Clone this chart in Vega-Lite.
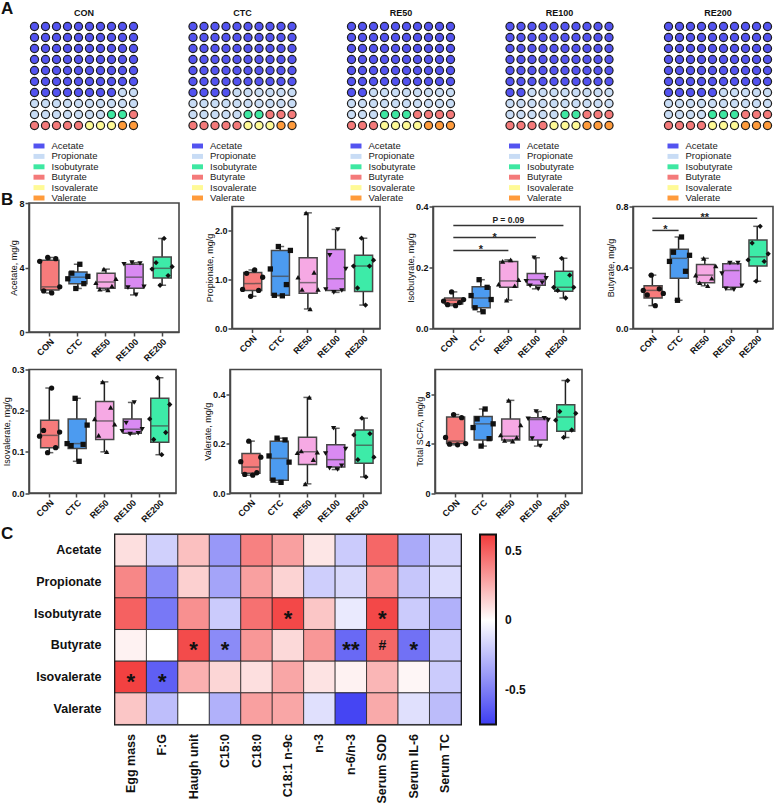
{
"$schema":"https://vega.github.io/schema/vega-lite/v6.json",
"padding":{"left":0,"top":0,"right":0,"bottom":0},
"background":"white",
"config":{"font":"Liberation Sans","view":{"stroke":null},
"axis":{"labelFont":"Liberation Sans","titleFont":"Liberation Sans","labelFontWeight":"bold","labelFontSize":9,"labelColor":"#111","titleFontSize":9,"titleFontWeight":"normal","titleColor":"#111","tickSize":4,"tickWidth":1.5,"tickColor":"#474747","domainColor":"#474747","domainWidth":1.5,"grid":false,"labelPadding":1,"titlePadding":0},
"title":{"font":"Liberation Sans","color":"#111"},"legend":{"labelFont":"Liberation Sans"}},
"datasets":{
"wCON":[{"r":1,"c":1,"k":"A"},{"r":1,"c":2,"k":"A"},{"r":1,"c":3,"k":"A"},{"r":1,"c":4,"k":"A"},{"r":1,"c":5,"k":"A"},{"r":1,"c":6,"k":"A"},{"r":1,"c":7,"k":"A"},{"r":1,"c":8,"k":"A"},{"r":1,"c":9,"k":"A"},{"r":1,"c":10,"k":"A"},
{"r":2,"c":1,"k":"A"},{"r":2,"c":2,"k":"A"},{"r":2,"c":3,"k":"A"},{"r":2,"c":4,"k":"A"},{"r":2,"c":5,"k":"A"},{"r":2,"c":6,"k":"A"},{"r":2,"c":7,"k":"A"},{"r":2,"c":8,"k":"A"},{"r":2,"c":9,"k":"A"},{"r":2,"c":10,"k":"A"},
{"r":3,"c":1,"k":"A"},{"r":3,"c":2,"k":"A"},{"r":3,"c":3,"k":"A"},{"r":3,"c":4,"k":"A"},{"r":3,"c":5,"k":"A"},{"r":3,"c":6,"k":"A"},{"r":3,"c":7,"k":"A"},{"r":3,"c":8,"k":"A"},{"r":3,"c":9,"k":"A"},{"r":3,"c":10,"k":"A"},
{"r":4,"c":1,"k":"A"},{"r":4,"c":2,"k":"A"},{"r":4,"c":3,"k":"A"},{"r":4,"c":4,"k":"A"},{"r":4,"c":5,"k":"A"},{"r":4,"c":6,"k":"A"},{"r":4,"c":7,"k":"A"},{"r":4,"c":8,"k":"A"},{"r":4,"c":9,"k":"A"},{"r":4,"c":10,"k":"A"},
{"r":5,"c":1,"k":"A"},{"r":5,"c":2,"k":"A"},{"r":5,"c":3,"k":"A"},{"r":5,"c":4,"k":"A"},{"r":5,"c":5,"k":"A"},{"r":5,"c":6,"k":"A"},{"r":5,"c":7,"k":"A"},{"r":5,"c":8,"k":"A"},{"r":5,"c":9,"k":"A"},{"r":5,"c":10,"k":"A"},
{"r":6,"c":1,"k":"A"},{"r":6,"c":2,"k":"A"},{"r":6,"c":3,"k":"A"},{"r":6,"c":4,"k":"A"},{"r":6,"c":5,"k":"A"},{"r":6,"c":6,"k":"A"},{"r":6,"c":7,"k":"A"},{"r":6,"c":8,"k":"A"},{"r":6,"c":9,"k":"A"},{"r":6,"c":10,"k":"A"},
{"r":7,"c":1,"k":"A"},{"r":7,"c":2,"k":"A"},{"r":7,"c":3,"k":"A"},{"r":7,"c":4,"k":"A"},{"r":7,"c":5,"k":"A"},{"r":7,"c":6,"k":"A"},{"r":7,"c":7,"k":"A"},{"r":7,"c":8,"k":"A"},{"r":7,"c":9,"k":"P"},{"r":7,"c":10,"k":"P"},
{"r":8,"c":1,"k":"P"},{"r":8,"c":2,"k":"P"},{"r":8,"c":3,"k":"P"},{"r":8,"c":4,"k":"P"},{"r":8,"c":5,"k":"P"},{"r":8,"c":6,"k":"P"},{"r":8,"c":7,"k":"P"},{"r":8,"c":8,"k":"P"},{"r":8,"c":9,"k":"P"},{"r":8,"c":10,"k":"P"},
{"r":9,"c":1,"k":"P"},{"r":9,"c":2,"k":"P"},{"r":9,"c":3,"k":"P"},{"r":9,"c":4,"k":"P"},{"r":9,"c":5,"k":"P"},{"r":9,"c":6,"k":"P"},{"r":9,"c":7,"k":"P"},{"r":9,"c":8,"k":"I"},{"r":9,"c":9,"k":"I"},{"r":9,"c":10,"k":"B"},
{"r":10,"c":1,"k":"B"},{"r":10,"c":2,"k":"B"},{"r":10,"c":3,"k":"B"},{"r":10,"c":4,"k":"B"},{"r":10,"c":5,"k":"B"},{"r":10,"c":6,"k":"Y"},{"r":10,"c":7,"k":"Y"},{"r":10,"c":8,"k":"Y"},{"r":10,"c":9,"k":"O"},{"r":10,"c":10,"k":"O"}],
"wCTC":[{"r":1,"c":1,"k":"A"},{"r":1,"c":2,"k":"A"},{"r":1,"c":3,"k":"A"},{"r":1,"c":4,"k":"A"},{"r":1,"c":5,"k":"A"},{"r":1,"c":6,"k":"A"},{"r":1,"c":7,"k":"A"},{"r":1,"c":8,"k":"A"},{"r":1,"c":9,"k":"A"},{"r":1,"c":10,"k":"A"},
{"r":2,"c":1,"k":"A"},{"r":2,"c":2,"k":"A"},{"r":2,"c":3,"k":"A"},{"r":2,"c":4,"k":"A"},{"r":2,"c":5,"k":"A"},{"r":2,"c":6,"k":"A"},{"r":2,"c":7,"k":"A"},{"r":2,"c":8,"k":"A"},{"r":2,"c":9,"k":"A"},{"r":2,"c":10,"k":"A"},
{"r":3,"c":1,"k":"A"},{"r":3,"c":2,"k":"A"},{"r":3,"c":3,"k":"A"},{"r":3,"c":4,"k":"A"},{"r":3,"c":5,"k":"A"},{"r":3,"c":6,"k":"A"},{"r":3,"c":7,"k":"A"},{"r":3,"c":8,"k":"A"},{"r":3,"c":9,"k":"A"},{"r":3,"c":10,"k":"A"},
{"r":4,"c":1,"k":"A"},{"r":4,"c":2,"k":"A"},{"r":4,"c":3,"k":"A"},{"r":4,"c":4,"k":"A"},{"r":4,"c":5,"k":"A"},{"r":4,"c":6,"k":"A"},{"r":4,"c":7,"k":"A"},{"r":4,"c":8,"k":"A"},{"r":4,"c":9,"k":"A"},{"r":4,"c":10,"k":"A"},
{"r":5,"c":1,"k":"A"},{"r":5,"c":2,"k":"A"},{"r":5,"c":3,"k":"A"},{"r":5,"c":4,"k":"A"},{"r":5,"c":5,"k":"A"},{"r":5,"c":6,"k":"A"},{"r":5,"c":7,"k":"A"},{"r":5,"c":8,"k":"A"},{"r":5,"c":9,"k":"A"},{"r":5,"c":10,"k":"A"},
{"r":6,"c":1,"k":"A"},{"r":6,"c":2,"k":"A"},{"r":6,"c":3,"k":"A"},{"r":6,"c":4,"k":"A"},{"r":6,"c":5,"k":"A"},{"r":6,"c":6,"k":"A"},{"r":6,"c":7,"k":"A"},{"r":6,"c":8,"k":"A"},{"r":6,"c":9,"k":"A"},{"r":6,"c":10,"k":"A"},
{"r":7,"c":1,"k":"A"},{"r":7,"c":2,"k":"A"},{"r":7,"c":3,"k":"A"},{"r":7,"c":4,"k":"A"},{"r":7,"c":5,"k":"P"},{"r":7,"c":6,"k":"P"},{"r":7,"c":7,"k":"P"},{"r":7,"c":8,"k":"P"},{"r":7,"c":9,"k":"P"},{"r":7,"c":10,"k":"P"},
{"r":8,"c":1,"k":"P"},{"r":8,"c":2,"k":"P"},{"r":8,"c":3,"k":"P"},{"r":8,"c":4,"k":"P"},{"r":8,"c":5,"k":"P"},{"r":8,"c":6,"k":"P"},{"r":8,"c":7,"k":"P"},{"r":8,"c":8,"k":"P"},{"r":8,"c":9,"k":"P"},{"r":8,"c":10,"k":"P"},
{"r":9,"c":1,"k":"P"},{"r":9,"c":2,"k":"P"},{"r":9,"c":3,"k":"P"},{"r":9,"c":4,"k":"P"},{"r":9,"c":5,"k":"P"},{"r":9,"c":6,"k":"I"},{"r":9,"c":7,"k":"I"},{"r":9,"c":8,"k":"B"},{"r":9,"c":9,"k":"B"},{"r":9,"c":10,"k":"B"},
{"r":10,"c":1,"k":"B"},{"r":10,"c":2,"k":"B"},{"r":10,"c":3,"k":"B"},{"r":10,"c":4,"k":"B"},{"r":10,"c":5,"k":"B"},{"r":10,"c":6,"k":"Y"},{"r":10,"c":7,"k":"Y"},{"r":10,"c":8,"k":"Y"},{"r":10,"c":9,"k":"O"},{"r":10,"c":10,"k":"O"}],
"wRE50":[{"r":1,"c":1,"k":"A"},{"r":1,"c":2,"k":"A"},{"r":1,"c":3,"k":"A"},{"r":1,"c":4,"k":"A"},{"r":1,"c":5,"k":"A"},{"r":1,"c":6,"k":"A"},{"r":1,"c":7,"k":"A"},{"r":1,"c":8,"k":"A"},{"r":1,"c":9,"k":"A"},{"r":1,"c":10,"k":"A"},
{"r":2,"c":1,"k":"A"},{"r":2,"c":2,"k":"A"},{"r":2,"c":3,"k":"A"},{"r":2,"c":4,"k":"A"},{"r":2,"c":5,"k":"A"},{"r":2,"c":6,"k":"A"},{"r":2,"c":7,"k":"A"},{"r":2,"c":8,"k":"A"},{"r":2,"c":9,"k":"A"},{"r":2,"c":10,"k":"A"},
{"r":3,"c":1,"k":"A"},{"r":3,"c":2,"k":"A"},{"r":3,"c":3,"k":"A"},{"r":3,"c":4,"k":"A"},{"r":3,"c":5,"k":"A"},{"r":3,"c":6,"k":"A"},{"r":3,"c":7,"k":"A"},{"r":3,"c":8,"k":"A"},{"r":3,"c":9,"k":"A"},{"r":3,"c":10,"k":"A"},
{"r":4,"c":1,"k":"A"},{"r":4,"c":2,"k":"A"},{"r":4,"c":3,"k":"A"},{"r":4,"c":4,"k":"A"},{"r":4,"c":5,"k":"A"},{"r":4,"c":6,"k":"A"},{"r":4,"c":7,"k":"A"},{"r":4,"c":8,"k":"A"},{"r":4,"c":9,"k":"A"},{"r":4,"c":10,"k":"A"},
{"r":5,"c":1,"k":"A"},{"r":5,"c":2,"k":"A"},{"r":5,"c":3,"k":"A"},{"r":5,"c":4,"k":"A"},{"r":5,"c":5,"k":"A"},{"r":5,"c":6,"k":"A"},{"r":5,"c":7,"k":"A"},{"r":5,"c":8,"k":"A"},{"r":5,"c":9,"k":"A"},{"r":5,"c":10,"k":"A"},
{"r":6,"c":1,"k":"A"},{"r":6,"c":2,"k":"A"},{"r":6,"c":3,"k":"A"},{"r":6,"c":4,"k":"A"},{"r":6,"c":5,"k":"A"},{"r":6,"c":6,"k":"A"},{"r":6,"c":7,"k":"A"},{"r":6,"c":8,"k":"A"},{"r":6,"c":9,"k":"A"},{"r":6,"c":10,"k":"A"},
{"r":7,"c":1,"k":"A"},{"r":7,"c":2,"k":"A"},{"r":7,"c":3,"k":"P"},{"r":7,"c":4,"k":"P"},{"r":7,"c":5,"k":"P"},{"r":7,"c":6,"k":"P"},{"r":7,"c":7,"k":"P"},{"r":7,"c":8,"k":"P"},{"r":7,"c":9,"k":"P"},{"r":7,"c":10,"k":"P"},
{"r":8,"c":1,"k":"P"},{"r":8,"c":2,"k":"P"},{"r":8,"c":3,"k":"P"},{"r":8,"c":4,"k":"P"},{"r":8,"c":5,"k":"P"},{"r":8,"c":6,"k":"P"},{"r":8,"c":7,"k":"P"},{"r":8,"c":8,"k":"P"},{"r":8,"c":9,"k":"P"},{"r":8,"c":10,"k":"P"},
{"r":9,"c":1,"k":"P"},{"r":9,"c":2,"k":"P"},{"r":9,"c":3,"k":"P"},{"r":9,"c":4,"k":"I"},{"r":9,"c":5,"k":"I"},{"r":9,"c":6,"k":"I"},{"r":9,"c":7,"k":"B"},{"r":9,"c":8,"k":"B"},{"r":9,"c":9,"k":"B"},{"r":9,"c":10,"k":"B"},
{"r":10,"c":1,"k":"B"},{"r":10,"c":2,"k":"B"},{"r":10,"c":3,"k":"B"},{"r":10,"c":4,"k":"Y"},{"r":10,"c":5,"k":"Y"},{"r":10,"c":6,"k":"Y"},{"r":10,"c":7,"k":"Y"},{"r":10,"c":8,"k":"O"},{"r":10,"c":9,"k":"O"},{"r":10,"c":10,"k":"O"}],
"wRE100":[{"r":1,"c":1,"k":"A"},{"r":1,"c":2,"k":"A"},{"r":1,"c":3,"k":"A"},{"r":1,"c":4,"k":"A"},{"r":1,"c":5,"k":"A"},{"r":1,"c":6,"k":"A"},{"r":1,"c":7,"k":"A"},{"r":1,"c":8,"k":"A"},{"r":1,"c":9,"k":"A"},{"r":1,"c":10,"k":"A"},
{"r":2,"c":1,"k":"A"},{"r":2,"c":2,"k":"A"},{"r":2,"c":3,"k":"A"},{"r":2,"c":4,"k":"A"},{"r":2,"c":5,"k":"A"},{"r":2,"c":6,"k":"A"},{"r":2,"c":7,"k":"A"},{"r":2,"c":8,"k":"A"},{"r":2,"c":9,"k":"A"},{"r":2,"c":10,"k":"A"},
{"r":3,"c":1,"k":"A"},{"r":3,"c":2,"k":"A"},{"r":3,"c":3,"k":"A"},{"r":3,"c":4,"k":"A"},{"r":3,"c":5,"k":"A"},{"r":3,"c":6,"k":"A"},{"r":3,"c":7,"k":"A"},{"r":3,"c":8,"k":"A"},{"r":3,"c":9,"k":"A"},{"r":3,"c":10,"k":"A"},
{"r":4,"c":1,"k":"A"},{"r":4,"c":2,"k":"A"},{"r":4,"c":3,"k":"A"},{"r":4,"c":4,"k":"A"},{"r":4,"c":5,"k":"A"},{"r":4,"c":6,"k":"A"},{"r":4,"c":7,"k":"A"},{"r":4,"c":8,"k":"A"},{"r":4,"c":9,"k":"A"},{"r":4,"c":10,"k":"A"},
{"r":5,"c":1,"k":"A"},{"r":5,"c":2,"k":"A"},{"r":5,"c":3,"k":"A"},{"r":5,"c":4,"k":"A"},{"r":5,"c":5,"k":"A"},{"r":5,"c":6,"k":"A"},{"r":5,"c":7,"k":"A"},{"r":5,"c":8,"k":"A"},{"r":5,"c":9,"k":"A"},{"r":5,"c":10,"k":"A"},
{"r":6,"c":1,"k":"A"},{"r":6,"c":2,"k":"A"},{"r":6,"c":3,"k":"A"},{"r":6,"c":4,"k":"A"},{"r":6,"c":5,"k":"A"},{"r":6,"c":6,"k":"A"},{"r":6,"c":7,"k":"A"},{"r":6,"c":8,"k":"A"},{"r":6,"c":9,"k":"A"},{"r":6,"c":10,"k":"A"},
{"r":7,"c":1,"k":"A"},{"r":7,"c":2,"k":"A"},{"r":7,"c":3,"k":"P"},{"r":7,"c":4,"k":"P"},{"r":7,"c":5,"k":"P"},{"r":7,"c":6,"k":"P"},{"r":7,"c":7,"k":"P"},{"r":7,"c":8,"k":"P"},{"r":7,"c":9,"k":"P"},{"r":7,"c":10,"k":"P"},
{"r":8,"c":1,"k":"P"},{"r":8,"c":2,"k":"P"},{"r":8,"c":3,"k":"P"},{"r":8,"c":4,"k":"P"},{"r":8,"c":5,"k":"P"},{"r":8,"c":6,"k":"P"},{"r":8,"c":7,"k":"P"},{"r":8,"c":8,"k":"P"},{"r":8,"c":9,"k":"P"},{"r":8,"c":10,"k":"P"},
{"r":9,"c":1,"k":"P"},{"r":9,"c":2,"k":"P"},{"r":9,"c":3,"k":"P"},{"r":9,"c":4,"k":"P"},{"r":9,"c":5,"k":"P"},{"r":9,"c":6,"k":"I"},{"r":9,"c":7,"k":"I"},{"r":9,"c":8,"k":"B"},{"r":9,"c":9,"k":"B"},{"r":9,"c":10,"k":"B"},
{"r":10,"c":1,"k":"B"},{"r":10,"c":2,"k":"B"},{"r":10,"c":3,"k":"B"},{"r":10,"c":4,"k":"B"},{"r":10,"c":5,"k":"Y"},{"r":10,"c":6,"k":"Y"},{"r":10,"c":7,"k":"Y"},{"r":10,"c":8,"k":"O"},{"r":10,"c":9,"k":"O"},{"r":10,"c":10,"k":"O"}],
"wRE200":[{"r":1,"c":1,"k":"A"},{"r":1,"c":2,"k":"A"},{"r":1,"c":3,"k":"A"},{"r":1,"c":4,"k":"A"},{"r":1,"c":5,"k":"A"},{"r":1,"c":6,"k":"A"},{"r":1,"c":7,"k":"A"},{"r":1,"c":8,"k":"A"},{"r":1,"c":9,"k":"A"},{"r":1,"c":10,"k":"A"},
{"r":2,"c":1,"k":"A"},{"r":2,"c":2,"k":"A"},{"r":2,"c":3,"k":"A"},{"r":2,"c":4,"k":"A"},{"r":2,"c":5,"k":"A"},{"r":2,"c":6,"k":"A"},{"r":2,"c":7,"k":"A"},{"r":2,"c":8,"k":"A"},{"r":2,"c":9,"k":"A"},{"r":2,"c":10,"k":"A"},
{"r":3,"c":1,"k":"A"},{"r":3,"c":2,"k":"A"},{"r":3,"c":3,"k":"A"},{"r":3,"c":4,"k":"A"},{"r":3,"c":5,"k":"A"},{"r":3,"c":6,"k":"A"},{"r":3,"c":7,"k":"A"},{"r":3,"c":8,"k":"A"},{"r":3,"c":9,"k":"A"},{"r":3,"c":10,"k":"A"},
{"r":4,"c":1,"k":"A"},{"r":4,"c":2,"k":"A"},{"r":4,"c":3,"k":"A"},{"r":4,"c":4,"k":"A"},{"r":4,"c":5,"k":"A"},{"r":4,"c":6,"k":"A"},{"r":4,"c":7,"k":"A"},{"r":4,"c":8,"k":"A"},{"r":4,"c":9,"k":"A"},{"r":4,"c":10,"k":"A"},
{"r":5,"c":1,"k":"A"},{"r":5,"c":2,"k":"A"},{"r":5,"c":3,"k":"A"},{"r":5,"c":4,"k":"A"},{"r":5,"c":5,"k":"A"},{"r":5,"c":6,"k":"A"},{"r":5,"c":7,"k":"A"},{"r":5,"c":8,"k":"A"},{"r":5,"c":9,"k":"A"},{"r":5,"c":10,"k":"A"},
{"r":6,"c":1,"k":"A"},{"r":6,"c":2,"k":"A"},{"r":6,"c":3,"k":"A"},{"r":6,"c":4,"k":"A"},{"r":6,"c":5,"k":"A"},{"r":6,"c":6,"k":"A"},{"r":6,"c":7,"k":"A"},{"r":6,"c":8,"k":"A"},{"r":6,"c":9,"k":"A"},{"r":6,"c":10,"k":"A"},
{"r":7,"c":1,"k":"A"},{"r":7,"c":2,"k":"A"},{"r":7,"c":3,"k":"A"},{"r":7,"c":4,"k":"A"},{"r":7,"c":5,"k":"A"},{"r":7,"c":6,"k":"P"},{"r":7,"c":7,"k":"P"},{"r":7,"c":8,"k":"P"},{"r":7,"c":9,"k":"P"},{"r":7,"c":10,"k":"P"},
{"r":8,"c":1,"k":"P"},{"r":8,"c":2,"k":"P"},{"r":8,"c":3,"k":"P"},{"r":8,"c":4,"k":"P"},{"r":8,"c":5,"k":"P"},{"r":8,"c":6,"k":"P"},{"r":8,"c":7,"k":"P"},{"r":8,"c":8,"k":"P"},{"r":8,"c":9,"k":"P"},{"r":8,"c":10,"k":"P"},
{"r":9,"c":1,"k":"P"},{"r":9,"c":2,"k":"P"},{"r":9,"c":3,"k":"P"},{"r":9,"c":4,"k":"P"},{"r":9,"c":5,"k":"I"},{"r":9,"c":6,"k":"I"},{"r":9,"c":7,"k":"I"},{"r":9,"c":8,"k":"B"},{"r":9,"c":9,"k":"B"},{"r":9,"c":10,"k":"B"},
{"r":10,"c":1,"k":"B"},{"r":10,"c":2,"k":"B"},{"r":10,"c":3,"k":"B"},{"r":10,"c":4,"k":"B"},{"r":10,"c":5,"k":"Y"},{"r":10,"c":6,"k":"Y"},{"r":10,"c":7,"k":"Y"},{"r":10,"c":8,"k":"O"},{"r":10,"c":9,"k":"O"},{"r":10,"c":10,"k":"O"}],
"box":[
{"m":"Acetate","g":"CON","mn":2.42,"q1":2.6,"md":2.8,"q3":4.45,"mx":4.62},
{"m":"Acetate","g":"CTC","mn":2.7,"q1":3.0,"md":3.4,"q3":3.72,"mx":4.2},
{"m":"Acetate","g":"RE50","mn":2.6,"q1":2.72,"md":3.1,"q3":3.65,"mx":3.9},
{"m":"Acetate","g":"RE100","mn":2.3,"q1":2.72,"md":3.4,"q3":4.2,"mx":4.3},
{"m":"Acetate","g":"RE200","mn":2.9,"q1":3.35,"md":3.95,"q3":4.65,"mx":5.8},
{"m":"Propionate","g":"CON","mn":0.66,"q1":0.78,"md":0.92,"q3":1.15,"mx":1.2},
{"m":"Propionate","g":"CTC","mn":0.67,"q1":0.68,"md":1.07,"q3":1.6,"mx":1.68},
{"m":"Propionate","g":"RE50","mn":0.4,"q1":0.72,"md":0.94,"q3":1.45,"mx":2.37},
{"m":"Propionate","g":"RE100","mn":0.74,"q1":0.78,"md":1.02,"q3":1.62,"mx":2.03},
{"m":"Propionate","g":"RE200","mn":0.48,"q1":0.76,"md":1.28,"q3":1.5,"mx":1.85},
{"m":"Isobutyrate","g":"CON","mn":0.075,"q1":0.08,"md":0.093,"q3":0.1,"mx":0.12},
{"m":"Isobutyrate","g":"CTC","mn":0.055,"q1":0.068,"md":0.1,"q3":0.137,"mx":0.16},
{"m":"Isobutyrate","g":"RE50","mn":0.093,"q1":0.135,"md":0.156,"q3":0.22,"mx":0.225},
{"m":"Isobutyrate","g":"RE100","mn":0.13,"q1":0.142,"md":0.16,"q3":0.18,"mx":0.232},
{"m":"Isobutyrate","g":"RE200","mn":0.1,"q1":0.122,"md":0.135,"q3":0.188,"mx":0.23},
{"m":"Butyrate","g":"CON","mn":0.15,"q1":0.2,"md":0.25,"q3":0.28,"mx":0.35},
{"m":"Butyrate","g":"CTC","mn":0.185,"q1":0.33,"md":0.46,"q3":0.52,"mx":0.6},
{"m":"Butyrate","g":"RE50","mn":0.28,"q1":0.3,"md":0.35,"q3":0.42,"mx":0.46},
{"m":"Butyrate","g":"RE100","mn":0.255,"q1":0.27,"md":0.38,"q3":0.425,"mx":0.43},
{"m":"Butyrate","g":"RE200","mn":0.31,"q1":0.41,"md":0.47,"q3":0.58,"mx":0.67},
{"m":"Isovalerate","g":"CON","mn":0.098,"q1":0.11,"md":0.14,"q3":0.177,"mx":0.255},
{"m":"Isovalerate","g":"CTC","mn":0.077,"q1":0.108,"md":0.12,"q3":0.18,"mx":0.23},
{"m":"Isovalerate","g":"RE50","mn":0.1,"q1":0.13,"md":0.175,"q3":0.222,"mx":0.27},
{"m":"Isovalerate","g":"RE100","mn":0.143,"q1":0.145,"md":0.155,"q3":0.18,"mx":0.22},
{"m":"Isovalerate","g":"RE200","mn":0.093,"q1":0.123,"md":0.163,"q3":0.23,"mx":0.28},
{"m":"Valerate","g":"CON","mn":0.072,"q1":0.08,"md":0.105,"q3":0.16,"mx":0.21},
{"m":"Valerate","g":"CTC","mn":0.043,"q1":0.052,"md":0.14,"q3":0.21,"mx":0.222},
{"m":"Valerate","g":"RE50","mn":0.037,"q1":0.115,"md":0.167,"q3":0.226,"mx":0.387},
{"m":"Valerate","g":"RE100","mn":0.095,"q1":0.105,"md":0.135,"q3":0.195,"mx":0.262},
{"m":"Valerate","g":"RE200","mn":0.065,"q1":0.12,"md":0.193,"q3":0.255,"mx":0.303},
{"m":"Total","g":"CON","mn":3.9,"q1":4.0,"md":4.2,"q3":6.15,"mx":6.35},
{"m":"Total","g":"CTC","mn":3.8,"q1":4.3,"md":5.6,"q3":6.2,"mx":6.8},
{"m":"Total","g":"RE50","mn":4.2,"q1":4.3,"md":4.6,"q3":6.0,"mx":7.5},
{"m":"Total","g":"RE100","mn":3.8,"q1":4.3,"md":5.95,"q3":6.1,"mx":6.6},
{"m":"Total","g":"RE200","mn":4.5,"q1":5.0,"md":6.15,"q3":7.15,"mx":9.1}],
"pts":[
{"m":"Acetate","g":"CON","k":3,"v":4.62},{"m":"Acetate","g":"CON","k":5,"v":4.55},{"m":"Acetate","g":"CON","k":1,"v":4.38},{"m":"Acetate","g":"CON","k":6,"v":2.8},{"m":"Acetate","g":"CON","k":2,"v":2.55},{"m":"Acetate","g":"CON","k":4,"v":2.42},
{"m":"Acetate","g":"CTC","k":4,"v":4.2},{"m":"Acetate","g":"CTC","k":2,"v":3.65},{"m":"Acetate","g":"CTC","k":6,"v":3.45},{"m":"Acetate","g":"CTC","k":1,"v":3.3},{"m":"Acetate","g":"CTC","k":5,"v":3.0},{"m":"Acetate","g":"CTC","k":3,"v":2.7},
{"m":"Acetate","g":"RE50","k":3,"v":3.9},{"m":"Acetate","g":"RE50","k":6,"v":3.3},{"m":"Acetate","g":"RE50","k":1,"v":3.05},{"m":"Acetate","g":"RE50","k":5,"v":2.85},{"m":"Acetate","g":"RE50","k":2,"v":2.65},{"m":"Acetate","g":"RE50","k":4,"v":2.6},
{"m":"Acetate","g":"RE100","k":3,"v":4.3},{"m":"Acetate","g":"RE100","k":5,"v":4.25},{"m":"Acetate","g":"RE100","k":1,"v":4.2},{"m":"Acetate","g":"RE100","k":6,"v":2.8},{"m":"Acetate","g":"RE100","k":2,"v":2.75},{"m":"Acetate","g":"RE100","k":4,"v":2.3},
{"m":"Acetate","g":"RE200","k":4,"v":5.8},{"m":"Acetate","g":"RE200","k":2,"v":4.3},{"m":"Acetate","g":"RE200","k":6,"v":4.05},{"m":"Acetate","g":"RE200","k":1,"v":3.9},{"m":"Acetate","g":"RE200","k":5,"v":3.5},{"m":"Acetate","g":"RE200","k":3,"v":2.9},
{"m":"Propionate","g":"CON","k":4,"v":1.2},{"m":"Propionate","g":"CON","k":2,"v":1.13},{"m":"Propionate","g":"CON","k":6,"v":1.05},{"m":"Propionate","g":"CON","k":1,"v":0.8},{"m":"Propionate","g":"CON","k":5,"v":0.78},{"m":"Propionate","g":"CON","k":3,"v":0.66},
{"m":"Propionate","g":"CTC","k":3,"v":1.68},{"m":"Propionate","g":"CTC","k":6,"v":1.6},{"m":"Propionate","g":"CTC","k":1,"v":1.22},{"m":"Propionate","g":"CTC","k":5,"v":0.9},{"m":"Propionate","g":"CTC","k":2,"v":0.68},{"m":"Propionate","g":"CTC","k":4,"v":0.67},
{"m":"Propionate","g":"RE50","k":3,"v":2.37},{"m":"Propionate","g":"RE50","k":5,"v":1.15},{"m":"Propionate","g":"RE50","k":1,"v":1.05},{"m":"Propionate","g":"RE50","k":6,"v":0.8},{"m":"Propionate","g":"RE50","k":2,"v":0.8},{"m":"Propionate","g":"RE50","k":4,"v":0.4},
{"m":"Propionate","g":"RE100","k":4,"v":2.03},{"m":"Propionate","g":"RE100","k":2,"v":1.5},{"m":"Propionate","g":"RE100","k":6,"v":1.22},{"m":"Propionate","g":"RE100","k":1,"v":0.8},{"m":"Propionate","g":"RE100","k":5,"v":0.78},{"m":"Propionate","g":"RE100","k":3,"v":0.74},
{"m":"Propionate","g":"RE200","k":3,"v":1.85},{"m":"Propionate","g":"RE200","k":6,"v":1.4},{"m":"Propionate","g":"RE200","k":1,"v":1.28},{"m":"Propionate","g":"RE200","k":5,"v":1.28},{"m":"Propionate","g":"RE200","k":2,"v":0.83},{"m":"Propionate","g":"RE200","k":4,"v":0.48},
{"m":"Isobutyrate","g":"CON","k":3,"v":0.12},{"m":"Isobutyrate","g":"CON","k":6,"v":0.095},{"m":"Isobutyrate","g":"CON","k":1,"v":0.09},{"m":"Isobutyrate","g":"CON","k":5,"v":0.085},{"m":"Isobutyrate","g":"CON","k":2,"v":0.078},{"m":"Isobutyrate","g":"CON","k":4,"v":0.075},
{"m":"Isobutyrate","g":"CTC","k":3,"v":0.16},{"m":"Isobutyrate","g":"CTC","k":5,"v":0.135},{"m":"Isobutyrate","g":"CTC","k":1,"v":0.108},{"m":"Isobutyrate","g":"CTC","k":6,"v":0.095},{"m":"Isobutyrate","g":"CTC","k":2,"v":0.068},{"m":"Isobutyrate","g":"CTC","k":4,"v":0.055},
{"m":"Isobutyrate","g":"RE50","k":4,"v":0.225},{"m":"Isobutyrate","g":"RE50","k":2,"v":0.22},{"m":"Isobutyrate","g":"RE50","k":6,"v":0.16},{"m":"Isobutyrate","g":"RE50","k":1,"v":0.145},{"m":"Isobutyrate","g":"RE50","k":5,"v":0.14},{"m":"Isobutyrate","g":"RE50","k":3,"v":0.093},
{"m":"Isobutyrate","g":"RE100","k":3,"v":0.232},{"m":"Isobutyrate","g":"RE100","k":6,"v":0.165},{"m":"Isobutyrate","g":"RE100","k":1,"v":0.155},{"m":"Isobutyrate","g":"RE100","k":5,"v":0.15},{"m":"Isobutyrate","g":"RE100","k":2,"v":0.14},{"m":"Isobutyrate","g":"RE100","k":4,"v":0.13},
{"m":"Isobutyrate","g":"RE200","k":3,"v":0.23},{"m":"Isobutyrate","g":"RE200","k":5,"v":0.175},{"m":"Isobutyrate","g":"RE200","k":1,"v":0.135},{"m":"Isobutyrate","g":"RE200","k":6,"v":0.135},{"m":"Isobutyrate","g":"RE200","k":2,"v":0.125},{"m":"Isobutyrate","g":"RE200","k":4,"v":0.1},
{"m":"Butyrate","g":"CON","k":3,"v":0.35},{"m":"Butyrate","g":"CON","k":5,"v":0.26},{"m":"Butyrate","g":"CON","k":1,"v":0.25},{"m":"Butyrate","g":"CON","k":6,"v":0.23},{"m":"Butyrate","g":"CON","k":2,"v":0.22},{"m":"Butyrate","g":"CON","k":4,"v":0.15},
{"m":"Butyrate","g":"CTC","k":4,"v":0.6},{"m":"Butyrate","g":"CTC","k":2,"v":0.5},{"m":"Butyrate","g":"CTC","k":6,"v":0.48},{"m":"Butyrate","g":"CTC","k":1,"v":0.44},{"m":"Butyrate","g":"CTC","k":5,"v":0.375},{"m":"Butyrate","g":"CTC","k":3,"v":0.185},
{"m":"Butyrate","g":"RE50","k":3,"v":0.46},{"m":"Butyrate","g":"RE50","k":6,"v":0.41},{"m":"Butyrate","g":"RE50","k":1,"v":0.35},{"m":"Butyrate","g":"RE50","k":5,"v":0.33},{"m":"Butyrate","g":"RE50","k":2,"v":0.3},{"m":"Butyrate","g":"RE50","k":4,"v":0.28},
{"m":"Butyrate","g":"RE100","k":3,"v":0.43},{"m":"Butyrate","g":"RE100","k":5,"v":0.43},{"m":"Butyrate","g":"RE100","k":1,"v":0.36},{"m":"Butyrate","g":"RE100","k":6,"v":0.28},{"m":"Butyrate","g":"RE100","k":2,"v":0.26},{"m":"Butyrate","g":"RE100","k":4,"v":0.255},
{"m":"Butyrate","g":"RE200","k":4,"v":0.67},{"m":"Butyrate","g":"RE200","k":2,"v":0.56},{"m":"Butyrate","g":"RE200","k":6,"v":0.49},{"m":"Butyrate","g":"RE200","k":1,"v":0.45},{"m":"Butyrate","g":"RE200","k":5,"v":0.44},{"m":"Butyrate","g":"RE200","k":3,"v":0.31},
{"m":"Isovalerate","g":"CON","k":4,"v":0.255},{"m":"Isovalerate","g":"CON","k":2,"v":0.152},{"m":"Isovalerate","g":"CON","k":6,"v":0.148},{"m":"Isovalerate","g":"CON","k":1,"v":0.138},{"m":"Isovalerate","g":"CON","k":5,"v":0.11},{"m":"Isovalerate","g":"CON","k":3,"v":0.098},
{"m":"Isovalerate","g":"CTC","k":3,"v":0.23},{"m":"Isovalerate","g":"CTC","k":6,"v":0.165},{"m":"Isovalerate","g":"CTC","k":1,"v":0.12},{"m":"Isovalerate","g":"CTC","k":5,"v":0.118},{"m":"Isovalerate","g":"CTC","k":2,"v":0.115},{"m":"Isovalerate","g":"CTC","k":4,"v":0.077},
{"m":"Isovalerate","g":"RE50","k":3,"v":0.27},{"m":"Isovalerate","g":"RE50","k":5,"v":0.208},{"m":"Isovalerate","g":"RE50","k":1,"v":0.18},{"m":"Isovalerate","g":"RE50","k":6,"v":0.167},{"m":"Isovalerate","g":"RE50","k":2,"v":0.14},{"m":"Isovalerate","g":"RE50","k":4,"v":0.1},
{"m":"Isovalerate","g":"RE100","k":4,"v":0.22},{"m":"Isovalerate","g":"RE100","k":2,"v":0.17},{"m":"Isovalerate","g":"RE100","k":6,"v":0.155},{"m":"Isovalerate","g":"RE100","k":1,"v":0.15},{"m":"Isovalerate","g":"RE100","k":5,"v":0.145},{"m":"Isovalerate","g":"RE100","k":3,"v":0.143},
{"m":"Isovalerate","g":"RE200","k":3,"v":0.28},{"m":"Isovalerate","g":"RE200","k":6,"v":0.215},{"m":"Isovalerate","g":"RE200","k":1,"v":0.18},{"m":"Isovalerate","g":"RE200","k":5,"v":0.147},{"m":"Isovalerate","g":"RE200","k":2,"v":0.13},{"m":"Isovalerate","g":"RE200","k":4,"v":0.093},
{"m":"Valerate","g":"CON","k":3,"v":0.21},{"m":"Valerate","g":"CON","k":6,"v":0.145},{"m":"Valerate","g":"CON","k":1,"v":0.127},{"m":"Valerate","g":"CON","k":5,"v":0.082},{"m":"Valerate","g":"CON","k":2,"v":0.075},{"m":"Valerate","g":"CON","k":4,"v":0.072},
{"m":"Valerate","g":"CTC","k":3,"v":0.222},{"m":"Valerate","g":"CTC","k":5,"v":0.215},{"m":"Valerate","g":"CTC","k":1,"v":0.15},{"m":"Valerate","g":"CTC","k":6,"v":0.125},{"m":"Valerate","g":"CTC","k":2,"v":0.052},{"m":"Valerate","g":"CTC","k":4,"v":0.043},
{"m":"Valerate","g":"RE50","k":4,"v":0.387},{"m":"Valerate","g":"RE50","k":2,"v":0.17},{"m":"Valerate","g":"RE50","k":6,"v":0.165},{"m":"Valerate","g":"RE50","k":1,"v":0.163},{"m":"Valerate","g":"RE50","k":5,"v":0.135},{"m":"Valerate","g":"RE50","k":3,"v":0.037},
{"m":"Valerate","g":"RE100","k":3,"v":0.262},{"m":"Valerate","g":"RE100","k":6,"v":0.178},{"m":"Valerate","g":"RE100","k":1,"v":0.16},{"m":"Valerate","g":"RE100","k":5,"v":0.11},{"m":"Valerate","g":"RE100","k":2,"v":0.1},{"m":"Valerate","g":"RE100","k":4,"v":0.095},
{"m":"Valerate","g":"RE200","k":3,"v":0.303},{"m":"Valerate","g":"RE200","k":5,"v":0.24},{"m":"Valerate","g":"RE200","k":1,"v":0.235},{"m":"Valerate","g":"RE200","k":6,"v":0.145},{"m":"Valerate","g":"RE200","k":2,"v":0.135},{"m":"Valerate","g":"RE200","k":4,"v":0.065},
{"m":"Total","g":"CON","k":3,"v":6.35},{"m":"Total","g":"CON","k":5,"v":6.1},{"m":"Total","g":"CON","k":1,"v":4.5},{"m":"Total","g":"CON","k":6,"v":4.0},{"m":"Total","g":"CON","k":2,"v":3.95},{"m":"Total","g":"CON","k":4,"v":3.9},
{"m":"Total","g":"CTC","k":4,"v":6.8},{"m":"Total","g":"CTC","k":2,"v":6.0},{"m":"Total","g":"CTC","k":6,"v":5.6},{"m":"Total","g":"CTC","k":1,"v":5.3},{"m":"Total","g":"CTC","k":5,"v":4.4},{"m":"Total","g":"CTC","k":3,"v":3.8},
{"m":"Total","g":"RE50","k":3,"v":7.5},{"m":"Total","g":"RE50","k":6,"v":5.5},{"m":"Total","g":"RE50","k":1,"v":4.7},{"m":"Total","g":"RE50","k":5,"v":4.5},{"m":"Total","g":"RE50","k":2,"v":4.25},{"m":"Total","g":"RE50","k":4,"v":4.2},
{"m":"Total","g":"RE100","k":3,"v":6.6},{"m":"Total","g":"RE100","k":5,"v":6.05},{"m":"Total","g":"RE100","k":1,"v":6.0},{"m":"Total","g":"RE100","k":6,"v":5.9},{"m":"Total","g":"RE100","k":2,"v":4.4},{"m":"Total","g":"RE100","k":4,"v":3.8},
{"m":"Total","g":"RE200","k":4,"v":9.1},{"m":"Total","g":"RE200","k":2,"v":6.6},{"m":"Total","g":"RE200","k":6,"v":6.45},{"m":"Total","g":"RE200","k":1,"v":5.9},{"m":"Total","g":"RE200","k":5,"v":5.1},{"m":"Total","g":"RE200","k":3,"v":4.5}],
"sig":[
{"m":"Isobutyrate","a":"CON","b":"RE50","y":0.256,"t":"*","mid":"CTC","p":"c"},
{"m":"Isobutyrate","a":"CON","b":"RE100","y":0.298,"t":"*","mid":"RE50","p":"e"},
{"m":"Isobutyrate","a":"CON","b":"RE200","y":0.338,"t":"P = 0.09","mid":"RE50","p":"c"},
{"m":"Butyrate","a":"CON","b":"CTC","y":0.643,"t":"*","mid":"CTC","p":"e"},
{"m":"Butyrate","a":"CON","b":"RE200","y":0.723,"t":"**","mid":"RE50","p":"c"}],
"heat":[
{"r":"Acetate","c":"Egg mass","v":0.1},{"r":"Acetate","c":"F:G","v":-0.18},{"r":"Acetate","c":"Haugh unit","v":0.2},{"r":"Acetate","c":"C15:0","v":-0.4},{"r":"Acetate","c":"C18:0","v":0.4},{"r":"Acetate","c":"C18:1 n-9c","v":0.3},{"r":"Acetate","c":"n-3","v":0.08},{"r":"Acetate","c":"n-6/n-3","v":-0.2},{"r":"Acetate","c":"Serum SOD","v":0.48},{"r":"Acetate","c":"Serum IL-6","v":-0.33},{"r":"Acetate","c":"Serum TC","v":-0.17},
{"r":"Propionate","c":"Egg mass","v":0.38},{"r":"Propionate","c":"F:G","v":-0.45},{"r":"Propionate","c":"Haugh unit","v":0.15},{"r":"Propionate","c":"C15:0","v":-0.35},{"r":"Propionate","c":"C18:0","v":0.3},{"r":"Propionate","c":"C18:1 n-9c","v":0.14},{"r":"Propionate","c":"n-3","v":-0.19},{"r":"Propionate","c":"n-6/n-3","v":-0.15},{"r":"Propionate","c":"Serum SOD","v":0.35},{"r":"Propionate","c":"Serum IL-6","v":-0.22},{"r":"Propionate","c":"Serum TC","v":-0.14},
{"r":"Isobutyrate","c":"Egg mass","v":0.5},{"r":"Isobutyrate","c":"F:G","v":-0.52},{"r":"Isobutyrate","c":"Haugh unit","v":0.35},{"r":"Isobutyrate","c":"C15:0","v":-0.2},{"r":"Isobutyrate","c":"C18:0","v":0.45},{"r":"Isobutyrate","c":"C18:1 n-9c","v":0.58,"s":"*"},{"r":"Isobutyrate","c":"n-3","v":0.18},{"r":"Isobutyrate","c":"n-6/n-3","v":-0.08},{"r":"Isobutyrate","c":"Serum SOD","v":0.58,"s":"*"},{"r":"Isobutyrate","c":"Serum IL-6","v":-0.2},{"r":"Isobutyrate","c":"Serum TC","v":-0.3},
{"r":"Butyrate","c":"Egg mass","v":0.04},{"r":"Butyrate","c":"F:G","v":0},{"r":"Butyrate","c":"Haugh unit","v":0.57,"s":"*"},{"r":"Butyrate","c":"C15:0","v":-0.45,"s":"*"},{"r":"Butyrate","c":"C18:0","v":0.33},{"r":"Butyrate","c":"C18:1 n-9c","v":0.12},{"r":"Butyrate","c":"n-3","v":0.33},{"r":"Butyrate","c":"n-6/n-3","v":-0.58,"s":"**"},{"r":"Butyrate","c":"Serum SOD","v":0.48,"s":"#"},{"r":"Butyrate","c":"Serum IL-6","v":-0.55,"s":"*"},{"r":"Butyrate","c":"Serum TC","v":-0.2},
{"r":"Isovalerate","c":"Egg mass","v":0.6,"s":"*"},{"r":"Isovalerate","c":"F:G","v":-0.62,"s":"*"},{"r":"Isovalerate","c":"Haugh unit","v":0.25},{"r":"Isovalerate","c":"C15:0","v":0.13},{"r":"Isovalerate","c":"C18:0","v":0.1},{"r":"Isovalerate","c":"C18:1 n-9c","v":0.28},{"r":"Isovalerate","c":"n-3","v":0.09},{"r":"Isovalerate","c":"n-6/n-3","v":0.04},{"r":"Isovalerate","c":"Serum SOD","v":0.23},{"r":"Isovalerate","c":"Serum IL-6","v":0.03},{"r":"Isovalerate","c":"Serum TC","v":-0.2},
{"r":"Valerate","c":"Egg mass","v":0.18},{"r":"Valerate","c":"F:G","v":-0.25},{"r":"Valerate","c":"Haugh unit","v":0},{"r":"Valerate","c":"C15:0","v":-0.3},{"r":"Valerate","c":"C18:0","v":0.3},{"r":"Valerate","c":"C18:1 n-9c","v":0.28},{"r":"Valerate","c":"n-3","v":-0.12},{"r":"Valerate","c":"n-6/n-3","v":-0.72},{"r":"Valerate","c":"Serum SOD","v":0.27},{"r":"Valerate","c":"Serum IL-6","v":-0.12},{"r":"Valerate","c":"Serum TC","v":-0.26}]
},
"resolve":{"scale":{"fill":"independent","shape":"independent"}},
"columns":1,"spacing":{"row":-17,"column":0},
"concat":[
{"hconcat":[
 {"width":110,"height":110,"data":{"name":"wCON"},"title":{"text":"CON","fontSize":9,"fontWeight":"bold","offset":2},
  "mark":{"type":"point","shape":"circle","filled":true,"stroke":"#1e1e1e","strokeWidth":1.2,"size":66,"opacity":1},
  "encoding":{"x":{"field":"c","type":"quantitative","scale":{"domain":[0.5,10.5],"nice":false,"zero":false},"axis":null},
   "y":{"field":"r","type":"quantitative","scale":{"domain":[0.5,10.5],"nice":false,"zero":false,"reverse":true},"axis":null},
   "fill":{"field":"k","type":"nominal","scale":{"domain":["A","P","I","B","Y","O"],"range":["#5353F0","#C8DCF5","#3EE8A2","#F47A7A","#FFFA96","#FF9B3B"]},
    "legend":{"orient":"none","legendX":4.5,"legendY":119.5,"direction":"vertical","title":null,"padding":0,"symbolType":"M-1,-0.45H1V0.45H-1Z","symbolSize":121,"symbolStrokeWidth":0,"labelFontSize":9.5,"labelColor":"#222","labelOffset":7,"rowPadding":0.4,"labelExpr":"datum.label=='A'?'Acetate':datum.label=='P'?'Propionate':datum.label=='I'?'Isobutyrate':datum.label=='B'?'Butyrate':datum.label=='Y'?'Isovalerate':'Valerate'"}}}},
 {"width":110,"height":110,"data":{"name":"wCTC"},"title":{"text":"CTC","fontSize":9,"fontWeight":"bold","offset":2},
  "mark":{"type":"point","shape":"circle","filled":true,"stroke":"#1e1e1e","strokeWidth":1.2,"size":66,"opacity":1},
  "encoding":{"x":{"field":"c","type":"quantitative","scale":{"domain":[0.5,10.5],"nice":false,"zero":false},"axis":null},
   "y":{"field":"r","type":"quantitative","scale":{"domain":[0.5,10.5],"nice":false,"zero":false,"reverse":true},"axis":null},
   "fill":{"field":"k","type":"nominal","scale":{"domain":["A","P","I","B","Y","O"],"range":["#5353F0","#C8DCF5","#3EE8A2","#F47A7A","#FFFA96","#FF9B3B"]},
    "legend":{"orient":"none","legendX":4.5,"legendY":119.5,"direction":"vertical","title":null,"padding":0,"symbolType":"M-1,-0.45H1V0.45H-1Z","symbolSize":121,"symbolStrokeWidth":0,"labelFontSize":9.5,"labelColor":"#222","labelOffset":7,"rowPadding":0.4,"labelExpr":"datum.label=='A'?'Acetate':datum.label=='P'?'Propionate':datum.label=='I'?'Isobutyrate':datum.label=='B'?'Butyrate':datum.label=='Y'?'Isovalerate':'Valerate'"}}}},
 {"width":110,"height":110,"data":{"name":"wRE50"},"title":{"text":"RE50","fontSize":9,"fontWeight":"bold","offset":2},
  "mark":{"type":"point","shape":"circle","filled":true,"stroke":"#1e1e1e","strokeWidth":1.2,"size":66,"opacity":1},
  "encoding":{"x":{"field":"c","type":"quantitative","scale":{"domain":[0.5,10.5],"nice":false,"zero":false},"axis":null},
   "y":{"field":"r","type":"quantitative","scale":{"domain":[0.5,10.5],"nice":false,"zero":false,"reverse":true},"axis":null},
   "fill":{"field":"k","type":"nominal","scale":{"domain":["A","P","I","B","Y","O"],"range":["#5353F0","#C8DCF5","#3EE8A2","#F47A7A","#FFFA96","#FF9B3B"]},
    "legend":{"orient":"none","legendX":4.5,"legendY":119.5,"direction":"vertical","title":null,"padding":0,"symbolType":"M-1,-0.45H1V0.45H-1Z","symbolSize":121,"symbolStrokeWidth":0,"labelFontSize":9.5,"labelColor":"#222","labelOffset":7,"rowPadding":0.4,"labelExpr":"datum.label=='A'?'Acetate':datum.label=='P'?'Propionate':datum.label=='I'?'Isobutyrate':datum.label=='B'?'Butyrate':datum.label=='Y'?'Isovalerate':'Valerate'"}}}},
 {"width":110,"height":110,"data":{"name":"wRE100"},"title":{"text":"RE100","fontSize":9,"fontWeight":"bold","offset":2},
  "mark":{"type":"point","shape":"circle","filled":true,"stroke":"#1e1e1e","strokeWidth":1.2,"size":66,"opacity":1},
  "encoding":{"x":{"field":"c","type":"quantitative","scale":{"domain":[0.5,10.5],"nice":false,"zero":false},"axis":null},
   "y":{"field":"r","type":"quantitative","scale":{"domain":[0.5,10.5],"nice":false,"zero":false,"reverse":true},"axis":null},
   "fill":{"field":"k","type":"nominal","scale":{"domain":["A","P","I","B","Y","O"],"range":["#5353F0","#C8DCF5","#3EE8A2","#F47A7A","#FFFA96","#FF9B3B"]},
    "legend":{"orient":"none","legendX":4.5,"legendY":119.5,"direction":"vertical","title":null,"padding":0,"symbolType":"M-1,-0.45H1V0.45H-1Z","symbolSize":121,"symbolStrokeWidth":0,"labelFontSize":9.5,"labelColor":"#222","labelOffset":7,"rowPadding":0.4,"labelExpr":"datum.label=='A'?'Acetate':datum.label=='P'?'Propionate':datum.label=='I'?'Isobutyrate':datum.label=='B'?'Butyrate':datum.label=='Y'?'Isovalerate':'Valerate'"}}}},
 {"width":110,"height":110,"data":{"name":"wRE200"},"title":{"text":"RE200","fontSize":9,"fontWeight":"bold","offset":2},
  "mark":{"type":"point","shape":"circle","filled":true,"stroke":"#1e1e1e","strokeWidth":1.2,"size":66,"opacity":1},
  "encoding":{"x":{"field":"c","type":"quantitative","scale":{"domain":[0.5,10.5],"nice":false,"zero":false},"axis":null},
   "y":{"field":"r","type":"quantitative","scale":{"domain":[0.5,10.5],"nice":false,"zero":false,"reverse":true},"axis":null},
   "fill":{"field":"k","type":"nominal","scale":{"domain":["A","P","I","B","Y","O"],"range":["#5353F0","#C8DCF5","#3EE8A2","#F47A7A","#FFFA96","#FF9B3B"]},
    "legend":{"orient":"none","legendX":4.5,"legendY":119.5,"direction":"vertical","title":null,"padding":0,"symbolType":"M-1,-0.45H1V0.45H-1Z","symbolSize":121,"symbolStrokeWidth":0,"labelFontSize":9.5,"labelColor":"#222","labelOffset":7,"rowPadding":0.4,"labelExpr":"datum.label=='A'?'Acetate':datum.label=='P'?'Propionate':datum.label=='I'?'Isobutyrate':datum.label=='B'?'Butyrate':datum.label=='Y'?'Isovalerate':'Valerate'"}}}}
 ],
 "bounds":"flush","spacing":48.5,
 "title":{"text":"A","orient":"top","anchor":"start","frame":"group","fontSize":17,"fontWeight":"bold","offset":0,"dx":-28,"dy":26,"align":"left","baseline":"bottom"},
 "resolve":{"scale":{"fill":"independent"},"legend":{"fill":"independent"}}},
{"columns":1,"spacing":{"row":0.5,"column":0},"resolve":{"scale":{"fill":"independent","shape":"independent"}},
"concat":[
{"hconcat":[
 {"width":150,"height":129,"view":{"stroke":"#474747","strokeWidth":1.6},
  "title":{"text":"B","orient":"top","anchor":"start","frame":"group","fontSize":17,"fontWeight":"bold","offset":0,"dx":-28,"dy":26.5,"align":"left","baseline":"bottom"},
  "layer":[
   {"data":{"name":"box"},"transform":[{"filter":"datum.m=='Acetate'"}],"mark":{"type":"rule","color":"#222","strokeWidth":1.5},
    "encoding":{"x":{"field":"g","type":"nominal","scale":{"domain":["CON","CTC","RE50","RE100","RE200"],"paddingInner":0,"paddingOuter":0.17,"align":0.7},"axis":{"title":null,"labelAngle":-45}},
     "y":{"field":"mn","type":"quantitative","scale":{"domain":[0,8],"nice":false},"axis":{"title":"Acetate, mg/g","values":[0,2,4,6,8],"format":"d"}},"y2":{"field":"mx"}}},
   {"data":{"name":"box"},"transform":[{"filter":"datum.m=='Acetate'"}],"mark":{"type":"tick","color":"#222","thickness":1.5,"size":8},"encoding":{"x":{"field":"g","type":"nominal"},"y":{"field":"mx","type":"quantitative"}}},
   {"data":{"name":"box"},"transform":[{"filter":"datum.m=='Acetate'"}],"mark":{"type":"tick","color":"#222","thickness":1.5,"size":8},"encoding":{"x":{"field":"g","type":"nominal"},"y":{"field":"mn","type":"quantitative"}}},
   {"data":{"name":"box"},"transform":[{"filter":"datum.m=='Acetate'"}],"mark":{"type":"bar","width":{"band":0.63},"stroke":"#474747","strokeWidth":1.5},"encoding":{"x":{"field":"g","type":"nominal"},"y":{"field":"q1","type":"quantitative"},"y2":{"field":"q3"},"fill":{"field":"g","type":"nominal","scale":{"domain":["CON","CTC","RE50","RE100","RE200"],"range":["#F77B7B","#4C9BF0","#F6A9E4","#D98AF3","#3DEBA8"]},"legend":null}}},
   {"data":{"name":"box"},"transform":[{"filter":"datum.m=='Acetate'"}],"mark":{"type":"tick","color":"#474747","thickness":1.5,"size":17},"encoding":{"x":{"field":"g","type":"nominal"},"y":{"field":"md","type":"quantitative"}}},
   {"data":{"name":"pts"},"transform":[{"filter":"datum.m=='Acetate'"}],"mark":{"type":"point","filled":true,"color":"#111","size":28,"opacity":1},"encoding":{"x":{"field":"g","type":"nominal"},"xOffset":{"field":"k","type":"nominal","scale":{"paddingOuter":1.2}},"y":{"field":"v","type":"quantitative"},"shape":{"field":"g","type":"nominal","scale":{"domain":["CON","CTC","RE50","RE100","RE200"],"range":["circle","square","triangle-up","triangle-down","diamond"]},"legend":null}}}
  ]},
 {"width":148,"height":122,"view":{"stroke":"#474747","strokeWidth":1.6},
  "layer":[
   {"data":{"name":"box"},"transform":[{"filter":"datum.m=='Propionate'"}],"mark":{"type":"rule","color":"#222","strokeWidth":1.5},
    "encoding":{"x":{"field":"g","type":"nominal","scale":{"domain":["CON","CTC","RE50","RE100","RE200"],"paddingInner":0,"paddingOuter":0.17,"align":0.7},"axis":{"title":null,"labelAngle":-45}},
     "y":{"field":"mn","type":"quantitative","scale":{"domain":[0,2.5],"nice":false},"axis":{"title":"Propionate, mg/g","values":[0,0.5,1,1.5,2,2.5],"format":".1f"}},"y2":{"field":"mx"}}},
   {"data":{"name":"box"},"transform":[{"filter":"datum.m=='Propionate'"}],"mark":{"type":"tick","color":"#222","thickness":1.5,"size":8},"encoding":{"x":{"field":"g","type":"nominal"},"y":{"field":"mx","type":"quantitative"}}},
   {"data":{"name":"box"},"transform":[{"filter":"datum.m=='Propionate'"}],"mark":{"type":"tick","color":"#222","thickness":1.5,"size":8},"encoding":{"x":{"field":"g","type":"nominal"},"y":{"field":"mn","type":"quantitative"}}},
   {"data":{"name":"box"},"transform":[{"filter":"datum.m=='Propionate'"}],"mark":{"type":"bar","width":{"band":0.63},"stroke":"#474747","strokeWidth":1.5},"encoding":{"x":{"field":"g","type":"nominal"},"y":{"field":"q1","type":"quantitative"},"y2":{"field":"q3"},"fill":{"field":"g","type":"nominal","scale":{"domain":["CON","CTC","RE50","RE100","RE200"],"range":["#F77B7B","#4C9BF0","#F6A9E4","#D98AF3","#3DEBA8"]},"legend":null}}},
   {"data":{"name":"box"},"transform":[{"filter":"datum.m=='Propionate'"}],"mark":{"type":"tick","color":"#474747","thickness":1.5,"size":17},"encoding":{"x":{"field":"g","type":"nominal"},"y":{"field":"md","type":"quantitative"}}},
   {"data":{"name":"pts"},"transform":[{"filter":"datum.m=='Propionate'"}],"mark":{"type":"point","filled":true,"color":"#111","size":28,"opacity":1},"encoding":{"x":{"field":"g","type":"nominal"},"xOffset":{"field":"k","type":"nominal","scale":{"paddingOuter":1.2}},"y":{"field":"v","type":"quantitative"},"shape":{"field":"g","type":"nominal","scale":{"domain":["CON","CTC","RE50","RE100","RE200"],"range":["circle","square","triangle-up","triangle-down","diamond"]},"legend":null}}}
  ]},
 {"width":147,"height":122,"view":{"stroke":"#474747","strokeWidth":1.6},
  "layer":[
   {"data":{"name":"box"},"transform":[{"filter":"datum.m=='Isobutyrate'"}],"mark":{"type":"rule","color":"#222","strokeWidth":1.5},
    "encoding":{"x":{"field":"g","type":"nominal","scale":{"domain":["CON","CTC","RE50","RE100","RE200"],"paddingInner":0,"paddingOuter":0.17,"align":0.7},"axis":{"title":null,"labelAngle":-45}},
     "y":{"field":"mn","type":"quantitative","scale":{"domain":[0,0.4],"nice":false},"axis":{"title":"Isobutyrate, mg/g","values":[0,0.1,0.2,0.3,0.4],"format":".1f"}},"y2":{"field":"mx"}}},
   {"data":{"name":"box"},"transform":[{"filter":"datum.m=='Isobutyrate'"}],"mark":{"type":"tick","color":"#222","thickness":1.5,"size":8},"encoding":{"x":{"field":"g","type":"nominal"},"y":{"field":"mx","type":"quantitative"}}},
   {"data":{"name":"box"},"transform":[{"filter":"datum.m=='Isobutyrate'"}],"mark":{"type":"tick","color":"#222","thickness":1.5,"size":8},"encoding":{"x":{"field":"g","type":"nominal"},"y":{"field":"mn","type":"quantitative"}}},
   {"data":{"name":"box"},"transform":[{"filter":"datum.m=='Isobutyrate'"}],"mark":{"type":"bar","width":{"band":0.63},"stroke":"#474747","strokeWidth":1.5},"encoding":{"x":{"field":"g","type":"nominal"},"y":{"field":"q1","type":"quantitative"},"y2":{"field":"q3"},"fill":{"field":"g","type":"nominal","scale":{"domain":["CON","CTC","RE50","RE100","RE200"],"range":["#F77B7B","#4C9BF0","#F6A9E4","#D98AF3","#3DEBA8"]},"legend":null}}},
   {"data":{"name":"box"},"transform":[{"filter":"datum.m=='Isobutyrate'"}],"mark":{"type":"tick","color":"#474747","thickness":1.5,"size":17},"encoding":{"x":{"field":"g","type":"nominal"},"y":{"field":"md","type":"quantitative"}}},
   {"data":{"name":"pts"},"transform":[{"filter":"datum.m=='Isobutyrate'"}],"mark":{"type":"point","filled":true,"color":"#111","size":28,"opacity":1},"encoding":{"x":{"field":"g","type":"nominal"},"xOffset":{"field":"k","type":"nominal","scale":{"paddingOuter":1.2}},"y":{"field":"v","type":"quantitative"},"shape":{"field":"g","type":"nominal","scale":{"domain":["CON","CTC","RE50","RE100","RE200"],"range":["circle","square","triangle-up","triangle-down","diamond"]},"legend":null}}},
   {"data":{"name":"sig"},"transform":[{"filter":"datum.m=='Isobutyrate'"}],"mark":{"type":"rule","color":"#333","strokeWidth":1.5},"encoding":{"x":{"field":"a","type":"nominal"},"x2":{"field":"b"},"y":{"field":"y","type":"quantitative"}}},
   {"data":{"name":"sig"},"transform":[{"filter":"datum.m=='Isobutyrate' && datum.t=='*' && datum.p=='c'"}],"mark":{"type":"text","fontSize":11,"fontWeight":"bold","baseline":"alphabetic","dy":3,"color":"#222"},"encoding":{"x":{"field":"mid","type":"nominal","bandPosition":0.5},"y":{"field":"y","type":"quantitative"},"text":{"field":"t"}}},
   {"data":{"name":"sig"},"transform":[{"filter":"datum.m=='Isobutyrate' && datum.t=='*' && datum.p=='e'"}],"mark":{"type":"text","fontSize":11,"fontWeight":"bold","baseline":"alphabetic","dy":3,"color":"#222"},"encoding":{"x":{"field":"mid","type":"nominal","bandPosition":0},"y":{"field":"y","type":"quantitative"},"text":{"field":"t"}}},
   {"data":{"name":"sig"},"transform":[{"filter":"datum.m=='Isobutyrate' && datum.t!='*'"}],"mark":{"type":"text","fontSize":8.5,"fontWeight":"bold","baseline":"alphabetic","dy":-2.5,"color":"#222"},"encoding":{"x":{"field":"mid","type":"nominal","bandPosition":0.5},"y":{"field":"y","type":"quantitative"},"text":{"field":"t"}}}
  ]},
 {"width":140,"height":122,"view":{"stroke":"#474747","strokeWidth":1.6},
  "layer":[
   {"data":{"name":"box"},"transform":[{"filter":"datum.m=='Butyrate'"}],"mark":{"type":"rule","color":"#222","strokeWidth":1.5},
    "encoding":{"x":{"field":"g","type":"nominal","scale":{"domain":["CON","CTC","RE50","RE100","RE200"],"paddingInner":0,"paddingOuter":0.17,"align":0.7},"axis":{"title":null,"labelAngle":-45}},
     "y":{"field":"mn","type":"quantitative","scale":{"domain":[0,0.8],"nice":false},"axis":{"title":"Butyrate, mg/g","values":[0,0.2,0.4,0.6,0.8],"format":".1f"}},"y2":{"field":"mx"}}},
   {"data":{"name":"box"},"transform":[{"filter":"datum.m=='Butyrate'"}],"mark":{"type":"tick","color":"#222","thickness":1.5,"size":8},"encoding":{"x":{"field":"g","type":"nominal"},"y":{"field":"mx","type":"quantitative"}}},
   {"data":{"name":"box"},"transform":[{"filter":"datum.m=='Butyrate'"}],"mark":{"type":"tick","color":"#222","thickness":1.5,"size":8},"encoding":{"x":{"field":"g","type":"nominal"},"y":{"field":"mn","type":"quantitative"}}},
   {"data":{"name":"box"},"transform":[{"filter":"datum.m=='Butyrate'"}],"mark":{"type":"bar","width":{"band":0.63},"stroke":"#474747","strokeWidth":1.5},"encoding":{"x":{"field":"g","type":"nominal"},"y":{"field":"q1","type":"quantitative"},"y2":{"field":"q3"},"fill":{"field":"g","type":"nominal","scale":{"domain":["CON","CTC","RE50","RE100","RE200"],"range":["#F77B7B","#4C9BF0","#F6A9E4","#D98AF3","#3DEBA8"]},"legend":null}}},
   {"data":{"name":"box"},"transform":[{"filter":"datum.m=='Butyrate'"}],"mark":{"type":"tick","color":"#474747","thickness":1.5,"size":17},"encoding":{"x":{"field":"g","type":"nominal"},"y":{"field":"md","type":"quantitative"}}},
   {"data":{"name":"pts"},"transform":[{"filter":"datum.m=='Butyrate'"}],"mark":{"type":"point","filled":true,"color":"#111","size":28,"opacity":1},"encoding":{"x":{"field":"g","type":"nominal"},"xOffset":{"field":"k","type":"nominal","scale":{"paddingOuter":1.2}},"y":{"field":"v","type":"quantitative"},"shape":{"field":"g","type":"nominal","scale":{"domain":["CON","CTC","RE50","RE100","RE200"],"range":["circle","square","triangle-up","triangle-down","diamond"]},"legend":null}}},
   {"data":{"name":"sig"},"transform":[{"filter":"datum.m=='Butyrate'"}],"mark":{"type":"rule","color":"#333","strokeWidth":1.5},"encoding":{"x":{"field":"a","type":"nominal"},"x2":{"field":"b"},"y":{"field":"y","type":"quantitative"}}},
   {"data":{"name":"sig"},"transform":[{"filter":"datum.m=='Butyrate' && datum.p=='c'"}],"mark":{"type":"text","fontSize":11,"fontWeight":"bold","baseline":"alphabetic","dy":3,"color":"#222"},"encoding":{"x":{"field":"mid","type":"nominal","bandPosition":0.5},"y":{"field":"y","type":"quantitative"},"text":{"field":"t"}}},
   {"data":{"name":"sig"},"transform":[{"filter":"datum.m=='Butyrate' && datum.p=='e'"}],"mark":{"type":"text","fontSize":11,"fontWeight":"bold","baseline":"alphabetic","dy":3,"color":"#222"},"encoding":{"x":{"field":"mid","type":"nominal","bandPosition":0},"y":{"field":"y","type":"quantitative"},"text":{"field":"t"}}}
  ]}
 ],"bounds":"flush","spacing":53,"center":true},
{"columns":1,"spacing":{"row":-2,"column":0},"resolve":{"scale":{"fill":"independent","shape":"independent"}},
"concat":[
{"hconcat":[
 {"width":147,"height":123.5,"view":{"stroke":"#474747","strokeWidth":1.6},
  "layer":[
   {"data":{"name":"box"},"transform":[{"filter":"datum.m=='Isovalerate'"}],"mark":{"type":"rule","color":"#222","strokeWidth":1.5},
    "encoding":{"x":{"field":"g","type":"nominal","scale":{"domain":["CON","CTC","RE50","RE100","RE200"],"paddingInner":0,"paddingOuter":0.17,"align":0.7},"axis":{"title":null,"labelAngle":-45}},
     "y":{"field":"mn","type":"quantitative","scale":{"domain":[0,0.3],"nice":false},"axis":{"title":"Isovalerate, mg/g","values":[0,0.1,0.2,0.3],"format":".1f"}},"y2":{"field":"mx"}}},
   {"data":{"name":"box"},"transform":[{"filter":"datum.m=='Isovalerate'"}],"mark":{"type":"tick","color":"#222","thickness":1.5,"size":8},"encoding":{"x":{"field":"g","type":"nominal"},"y":{"field":"mx","type":"quantitative"}}},
   {"data":{"name":"box"},"transform":[{"filter":"datum.m=='Isovalerate'"}],"mark":{"type":"tick","color":"#222","thickness":1.5,"size":8},"encoding":{"x":{"field":"g","type":"nominal"},"y":{"field":"mn","type":"quantitative"}}},
   {"data":{"name":"box"},"transform":[{"filter":"datum.m=='Isovalerate'"}],"mark":{"type":"bar","width":{"band":0.63},"stroke":"#474747","strokeWidth":1.5},"encoding":{"x":{"field":"g","type":"nominal"},"y":{"field":"q1","type":"quantitative"},"y2":{"field":"q3"},"fill":{"field":"g","type":"nominal","scale":{"domain":["CON","CTC","RE50","RE100","RE200"],"range":["#F77B7B","#4C9BF0","#F6A9E4","#D98AF3","#3DEBA8"]},"legend":null}}},
   {"data":{"name":"box"},"transform":[{"filter":"datum.m=='Isovalerate'"}],"mark":{"type":"tick","color":"#474747","thickness":1.5,"size":17},"encoding":{"x":{"field":"g","type":"nominal"},"y":{"field":"md","type":"quantitative"}}},
   {"data":{"name":"pts"},"transform":[{"filter":"datum.m=='Isovalerate'"}],"mark":{"type":"point","filled":true,"color":"#111","size":28,"opacity":1},"encoding":{"x":{"field":"g","type":"nominal"},"xOffset":{"field":"k","type":"nominal","scale":{"paddingOuter":1.2}},"y":{"field":"v","type":"quantitative"},"shape":{"field":"g","type":"nominal","scale":{"domain":["CON","CTC","RE50","RE100","RE200"],"range":["circle","square","triangle-up","triangle-down","diamond"]},"legend":null}}}
  ]},
 {"width":151,"height":123.5,"view":{"stroke":"#474747","strokeWidth":1.6},
  "layer":[
   {"data":{"name":"box"},"transform":[{"filter":"datum.m=='Valerate'"}],"mark":{"type":"rule","color":"#222","strokeWidth":1.5},
    "encoding":{"x":{"field":"g","type":"nominal","scale":{"domain":["CON","CTC","RE50","RE100","RE200"],"paddingInner":0,"paddingOuter":0.17,"align":0.7},"axis":{"title":null,"labelAngle":-45}},
     "y":{"field":"mn","type":"quantitative","scale":{"domain":[0,0.5],"nice":false},"axis":{"title":"Valerate, mg/g","values":[0,0.1,0.2,0.3,0.4,0.5],"format":".1f"}},"y2":{"field":"mx"}}},
   {"data":{"name":"box"},"transform":[{"filter":"datum.m=='Valerate'"}],"mark":{"type":"tick","color":"#222","thickness":1.5,"size":8},"encoding":{"x":{"field":"g","type":"nominal"},"y":{"field":"mx","type":"quantitative"}}},
   {"data":{"name":"box"},"transform":[{"filter":"datum.m=='Valerate'"}],"mark":{"type":"tick","color":"#222","thickness":1.5,"size":8},"encoding":{"x":{"field":"g","type":"nominal"},"y":{"field":"mn","type":"quantitative"}}},
   {"data":{"name":"box"},"transform":[{"filter":"datum.m=='Valerate'"}],"mark":{"type":"bar","width":{"band":0.63},"stroke":"#474747","strokeWidth":1.5},"encoding":{"x":{"field":"g","type":"nominal"},"y":{"field":"q1","type":"quantitative"},"y2":{"field":"q3"},"fill":{"field":"g","type":"nominal","scale":{"domain":["CON","CTC","RE50","RE100","RE200"],"range":["#F77B7B","#4C9BF0","#F6A9E4","#D98AF3","#3DEBA8"]},"legend":null}}},
   {"data":{"name":"box"},"transform":[{"filter":"datum.m=='Valerate'"}],"mark":{"type":"tick","color":"#474747","thickness":1.5,"size":17},"encoding":{"x":{"field":"g","type":"nominal"},"y":{"field":"md","type":"quantitative"}}},
   {"data":{"name":"pts"},"transform":[{"filter":"datum.m=='Valerate'"}],"mark":{"type":"point","filled":true,"color":"#111","size":28,"opacity":1},"encoding":{"x":{"field":"g","type":"nominal"},"xOffset":{"field":"k","type":"nominal","scale":{"paddingOuter":1.2}},"y":{"field":"v","type":"quantitative"},"shape":{"field":"g","type":"nominal","scale":{"domain":["CON","CTC","RE50","RE100","RE200"],"range":["circle","square","triangle-up","triangle-down","diamond"]},"legend":null}}}
  ]},
 {"width":147,"height":123.5,"view":{"stroke":"#474747","strokeWidth":1.6},
  "layer":[
   {"data":{"name":"box"},"transform":[{"filter":"datum.m=='Total'"}],"mark":{"type":"rule","color":"#222","strokeWidth":1.5},
    "encoding":{"x":{"field":"g","type":"nominal","scale":{"domain":["CON","CTC","RE50","RE100","RE200"],"paddingInner":0,"paddingOuter":0.17,"align":0.7},"axis":{"title":null,"labelAngle":-45}},
     "y":{"field":"mn","type":"quantitative","scale":{"domain":[0,10],"nice":false},"axis":{"title":"Total SCFA, mg/g","values":[0,2,4,6,8,10],"format":"d"}},"y2":{"field":"mx"}}},
   {"data":{"name":"box"},"transform":[{"filter":"datum.m=='Total'"}],"mark":{"type":"tick","color":"#222","thickness":1.5,"size":8},"encoding":{"x":{"field":"g","type":"nominal"},"y":{"field":"mx","type":"quantitative"}}},
   {"data":{"name":"box"},"transform":[{"filter":"datum.m=='Total'"}],"mark":{"type":"tick","color":"#222","thickness":1.5,"size":8},"encoding":{"x":{"field":"g","type":"nominal"},"y":{"field":"mn","type":"quantitative"}}},
   {"data":{"name":"box"},"transform":[{"filter":"datum.m=='Total'"}],"mark":{"type":"bar","width":{"band":0.63},"stroke":"#474747","strokeWidth":1.5},"encoding":{"x":{"field":"g","type":"nominal"},"y":{"field":"q1","type":"quantitative"},"y2":{"field":"q3"},"fill":{"field":"g","type":"nominal","scale":{"domain":["CON","CTC","RE50","RE100","RE200"],"range":["#F77B7B","#4C9BF0","#F6A9E4","#D98AF3","#3DEBA8"]},"legend":null}}},
   {"data":{"name":"box"},"transform":[{"filter":"datum.m=='Total'"}],"mark":{"type":"tick","color":"#474747","thickness":1.5,"size":17},"encoding":{"x":{"field":"g","type":"nominal"},"y":{"field":"md","type":"quantitative"}}},
   {"data":{"name":"pts"},"transform":[{"filter":"datum.m=='Total'"}],"mark":{"type":"point","filled":true,"color":"#111","size":28,"opacity":1},"encoding":{"x":{"field":"g","type":"nominal"},"xOffset":{"field":"k","type":"nominal","scale":{"paddingOuter":1.2}},"y":{"field":"v","type":"quantitative"},"shape":{"field":"g","type":"nominal","scale":{"domain":["CON","CTC","RE50","RE100","RE200"],"range":["circle","square","triangle-up","triangle-down","diamond"]},"legend":null}}}
  ]}
 ],"bounds":"flush","spacing":54},
{"hconcat":[
 {"width":40,"height":10,"data":{"values":[]},"mark":{"type":"point","opacity":0},"encoding":{}},
 {"width":346,"height":190,"data":{"name":"heat"},"view":{"stroke":"#111","strokeWidth":2},
 "title":{"text":"C","orient":"top","anchor":"start","frame":"group","fontSize":17,"fontWeight":"bold","offset":0,"dx":-114,"dy":27,"align":"left","baseline":"bottom"},
 "encoding":{
  "x":{"field":"c","type":"nominal","scale":{"type":"band","domain":["Egg mass","F:G","Haugh unit","C15:0","C18:0","C18:1 n-9c","n-3","n-6/n-3","Serum SOD","Serum IL-6","Serum TC"],"paddingInner":0,"paddingOuter":0},"axis":{"title":null,"labelAngle":-90,"labelFontSize":12.5,"labelFontWeight":"bold","ticks":false,"domain":false,"labelPadding":9,"labelColor":"#111"}},
  "y":{"field":"r","type":"nominal","scale":{"type":"band","domain":["Acetate","Propionate","Isobutyrate","Butyrate","Isovalerate","Valerate"],"paddingInner":0,"paddingOuter":0},"axis":{"title":null,"labelFontSize":12.5,"labelFontWeight":"bold","ticks":false,"domain":false,"labelPadding":14,"labelColor":"#111"}}},
 "layer":[
  {"mark":{"type":"square","filled":true,"size":1000,"stroke":"#222","strokeWidth":0.8,"opacity":1},"encoding":{"fill":{"field":"v","type":"quantitative","scale":{"domain":[-0.75,0,0.62],"range":["#3D3DF2","#FFFFFF","#F23B3B"],"interpolate":"rgb"},
   "legend":{"orient":"right","offset":16,"direction":"vertical","title":null,"padding":0,"gradientLength":190,"gradientThickness":16,"gradientStrokeColor":"#111","gradientStrokeWidth":2,"values":[-0.5,0,0.5],"labelFontSize":12,"labelFontWeight":"bold","labelOffset":9,"labelColor":"#111","labelExpr":"datum.value>0?'0.5':datum.value<0?'-0.5':'0'"}}}},
  {"transform":[{"filter":"datum.s=='*' || datum.s=='**'"}],"mark":{"type":"text","fontSize":22,"fontWeight":"bold","baseline":"alphabetic","dy":12,"color":"#111"},"encoding":{"text":{"field":"s"}}},
  {"transform":[{"filter":"datum.s=='#'"}],"mark":{"type":"text","fontSize":14,"fontWeight":"bold","baseline":"middle","dy":1,"color":"#111"},"encoding":{"text":{"field":"s"}}}
 ]}],"bounds":"flush","spacing":46}
]}]}]
}
